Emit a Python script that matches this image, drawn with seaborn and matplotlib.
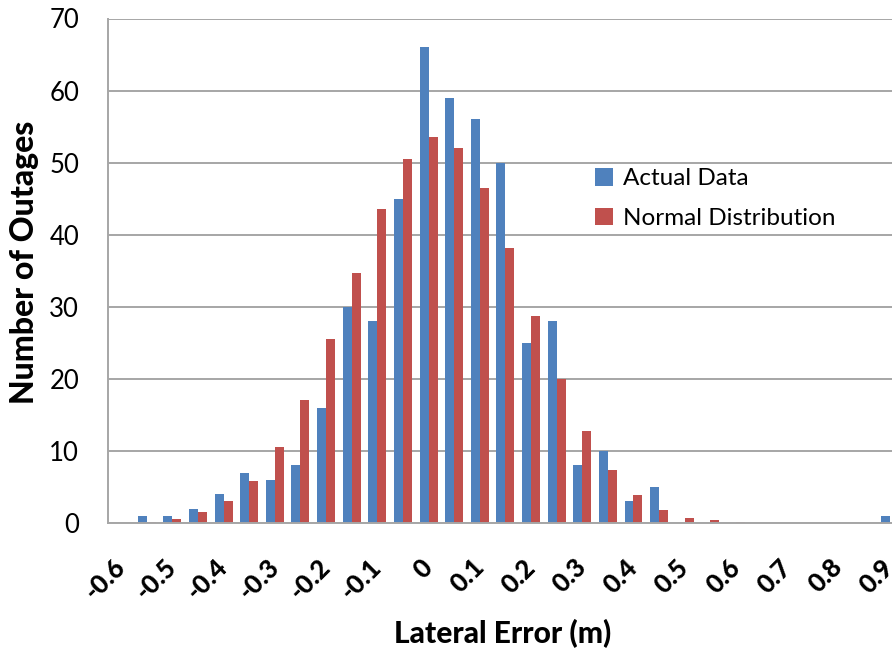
import matplotlib
matplotlib.use("Agg")
import matplotlib.pyplot as plt
import seaborn as sns
import numpy as np
import pandas as pd

categories = ["-0.6", "-0.55", "-0.5", "-0.45", "-0.4", "-0.35", "-0.3", "-0.25",
              "-0.2", "-0.15", "-0.1", "-0.05", "0", "0.05", "0.1", "0.15",
              "0.2", "0.25", "0.3", "0.35", "0.4", "0.45", "0.5", "0.55",
              "0.6", "0.65", "0.7", "0.75", "0.8", "0.85", "0.9"]
actual_data = [0, 1, 1, 2, 4, 7, 6, 8, 16, 30, 28, 45, 66, 59, 56, 50,
               25, 28, 8, 10, 3, 5, 0, 0, 0, 0, 0, 0, 0, 0, 1]
normal_dist = [0, 0.15, 0.5, 1.5, 3.0, 5.8, 10.5, 17.0, 25.5, 34.7, 43.6, 50.5,
               53.5, 52.0, 46.5, 38.2, 28.7, 20.0, 12.7, 7.4, 3.9, 1.85, 0.7,
               0.35, 0.15, 0, 0, 0, 0, 0, 0]
series_names = ["Actual Data", "Normal Distribution"]
tick_labels = ["-0.6", "-0.5", "-0.4", "-0.3", "-0.2", "-0.1", "0", "0.1",
               "0.2", "0.3", "0.4", "0.5", "0.6", "0.7", "0.8", "0.9"]
y_ticks = [0, 10, 20, 30, 40, 50, 60, 70]

df = pd.DataFrame({
    "x": categories * 2,
    "count": actual_data + normal_dist,
    "series": [series_names[0]] * len(categories) + [series_names[1]] * len(categories),
})

sns.set_style("white")
plt.rcParams["font.family"] = ["Lato", "DejaVu Sans"]
plt.rcParams["text.color"] = "#000000"

W, H = 892, 654
fig = plt.figure(figsize=(W / 100, H / 100), dpi=100)
ax_left, ax_right, ax_top, ax_bottom = 108.3, 902.5, 18.5, 523.0
ax = fig.add_axes([ax_left / W, 1 - ax_bottom / H, (ax_right - ax_left) / W, (ax_bottom - ax_top) / H])

sns.barplot(data=df, x="x", y="count", hue="series", order=categories,
            hue_order=series_names, palette=["#4F81BD", "#C0504D"],
            width=0.7, saturation=1, ax=ax, linewidth=0)

ax.set_xlim(-0.5, len(categories) - 0.5)
ax.set_ylim(0, 70)
ax.set_yticks(y_ticks)
ax.set_yticklabels([str(v) for v in y_ticks], fontsize=18.5, color="#000000")
ax.yaxis.grid(True, color="#A6A6A6", linewidth=1.4)
ax.set_axisbelow(True)

ax.set_xticks(list(range(0, len(categories), 2)))
ax.set_xticklabels(tick_labels, rotation=45, ha="right", va="center",
                   rotation_mode="anchor", fontsize=18.5, fontweight="black", color="#000000")
ax.set_xticks(np.arange(-0.5, len(categories), 1), minor=True)
ax.tick_params(axis="x", which="major", length=0, pad=29)
ax.tick_params(axis="x", which="minor", length=8, width=1.4, color="#A6A6A6", direction="out")
ax.tick_params(axis="y", which="major", length=8, width=1.4, color="#A6A6A6", direction="out", pad=13)

for side in ["top", "right"]:
    ax.spines[side].set_visible(False)
for side in ["left", "bottom"]:
    ax.spines[side].set_color("#A6A6A6")
    ax.spines[side].set_linewidth(1.4)

ax.set_xlabel("")
ax.set_ylabel("")
fig.text(25 / W, 1 - 262 / H, "Number of Outages", rotation=90, ha="center", va="center",
         fontsize=23, fontweight="black")
fig.text(503 / W, 1 - 634 / H, "Lateral Error (m)", ha="center", va="center",
         fontsize=21.5, fontweight="black")

handles, labels = ax.get_legend_handles_labels()
ax.legend(handles, labels, loc="upper left", bbox_to_anchor=(595 / W, 1 - 168 / H),
          bbox_transform=fig.transFigure, frameon=False, fontsize=17.5,
          handlelength=0.75, handleheight=0.75, handletextpad=0.4,
          labelspacing=0.75, borderpad=0, borderaxespad=0)

fig.savefig("out.png", dpi=100)
